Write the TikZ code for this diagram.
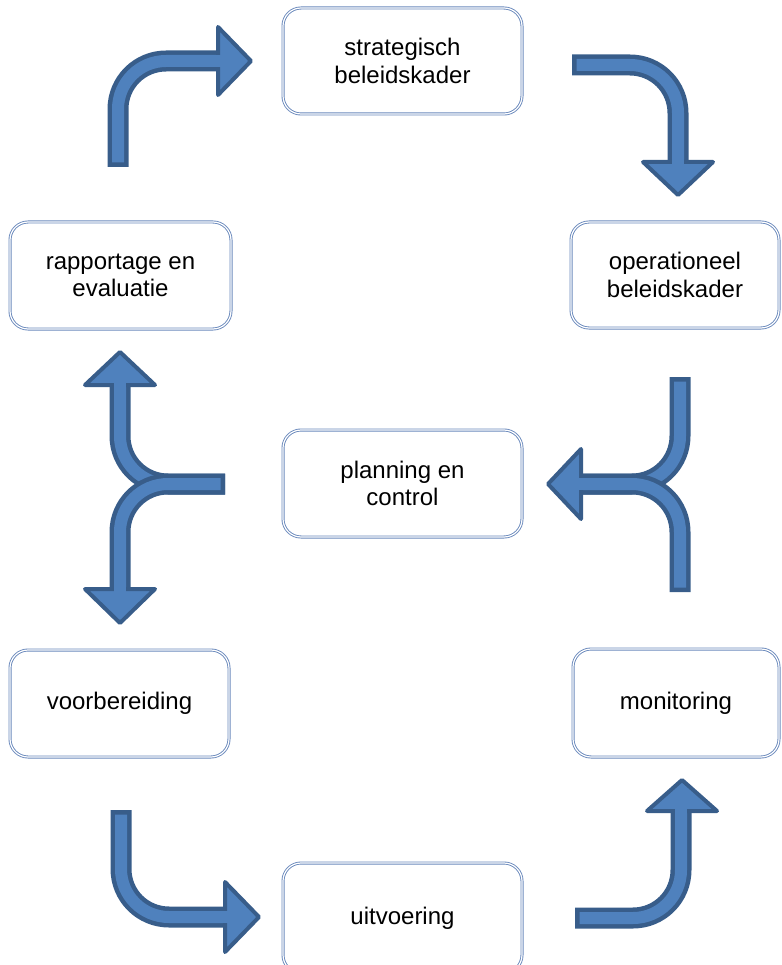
\documentclass[tikz,border=0pt]{standalone}
\usepackage{fontspec}
\setmainfont{Liberation Sans}
\definecolor{boxline}{HTML}{6A89BC}
\definecolor{arrfill}{HTML}{4F81BD}
\definecolor{arrline}{HTML}{385D8A}
\begin{document}
\begin{tikzpicture}[x=1pt,y=-1pt,
  stagebox/.style={draw=boxline, double=white, double distance=1.2pt, line width=0.9pt,
    rounded corners=18pt, align=center, inner sep=0pt,
    font=\fontsize{24}{27.5}\selectfont},
  shaftdark/.style={draw=arrline, line width=21pt, line join=round, rounded corners=48pt},
  shaftlight/.style={draw=arrfill, line width=12pt, line join=round, rounded corners=48pt, shorten <=4.5pt},
  headtri/.style={fill=arrfill, draw=arrline, line width=4pt, line join=round},
  patch/.style={draw=arrfill, line width=12pt}
]
\useasboundingbox (0,0) rectangle (781,965);

% boxes
\node[stagebox, minimum width=239pt, minimum height=106pt] (strat) at (402.5,61) {strategisch\\beleidskader};
\node[stagebox, minimum width=221pt, minimum height=107pt] (rapp) at (120.5,275.5) {rapportage en\\evaluatie};
\node[stagebox, minimum width=208pt, minimum height=106pt] (oper) at (675,275) {operationeel\\beleidskader};
\node[stagebox, minimum width=239pt, minimum height=107pt] (plan) at (402.5,483.5) {planning en\\control};
\node[stagebox, minimum width=219pt, minimum height=107pt] (voor) at (119.5,703.5) {voorbereiding};
\node[stagebox, minimum width=206pt, minimum height=108pt] (moni) at (676,703) {monitoring};
\node[stagebox, minimum width=239pt, minimum height=110pt] (uitv) at (402.5,918) {uitvoering};

% arrow 1: up then right
\draw[shaftdark] (118,167) -- (118,61) -- (217,61);
\draw[shaftlight] (118,167) -- (118,61) -- (217,61);
\draw[headtri] (218,27) -- (251,61) -- (218,95) -- cycle;
\draw[patch] (213,61) -- (223,61);

% arrow 2: right then down
\draw[shaftdark] (572,65) -- (678,65) -- (678,161);
\draw[shaftlight] (572,65) -- (678,65) -- (678,161);
\draw[headtri] (643,162) -- (713,162) -- (678,195) -- cycle;
\draw[patch] (678,156) -- (678,166);

% arrow 3: fork on the right, pointing left
\draw[shaftdark] (680,377) -- (680,484) -- (582,484);
\draw[shaftlight] (680,377) -- (680,484) -- (582,484);
\draw[shaftdark] (680,592) -- (680,484) -- (582,484);
\draw[shaftlight] (680,592) -- (680,484) -- (582,484);
\draw[headtri] (581,449) -- (548,484) -- (581,519) -- cycle;
\draw[patch] (587,484) -- (577,484);

% arrow 4: fork on the left, pointing up and down
\draw[shaftdark] (225,484) -- (120,484) -- (120,386);
\draw[shaftlight] (225,484) -- (120,484) -- (120,386);
\draw[shaftdark] (225,484) -- (120,484) -- (120,588);
\draw[shaftlight] (225,484) -- (120,484) -- (120,588);
\draw[headtri] (85,385) -- (155,385) -- (120,352) -- cycle;
\draw[patch] (120,390) -- (120,380);
\draw[headtri] (85,589) -- (155,589) -- (120,623) -- cycle;
\draw[patch] (120,584) -- (120,594);

% arrow 5: down then right
\draw[shaftdark] (121,810) -- (121,917) -- (224,917);
\draw[shaftlight] (121,810) -- (121,917) -- (224,917);
\draw[headtri] (225,882) -- (259,917) -- (225,952) -- cycle;
\draw[patch] (219,917) -- (229,917);

% arrow 6: right then up
\draw[shaftdark] (575,918) -- (681,918) -- (681,812);
\draw[shaftlight] (575,918) -- (681,918) -- (681,812);
\draw[headtri] (647,811) -- (717,811) -- (682,780) -- cycle;
\draw[patch] (681,816) -- (681,806);
\end{tikzpicture}
\end{document}
